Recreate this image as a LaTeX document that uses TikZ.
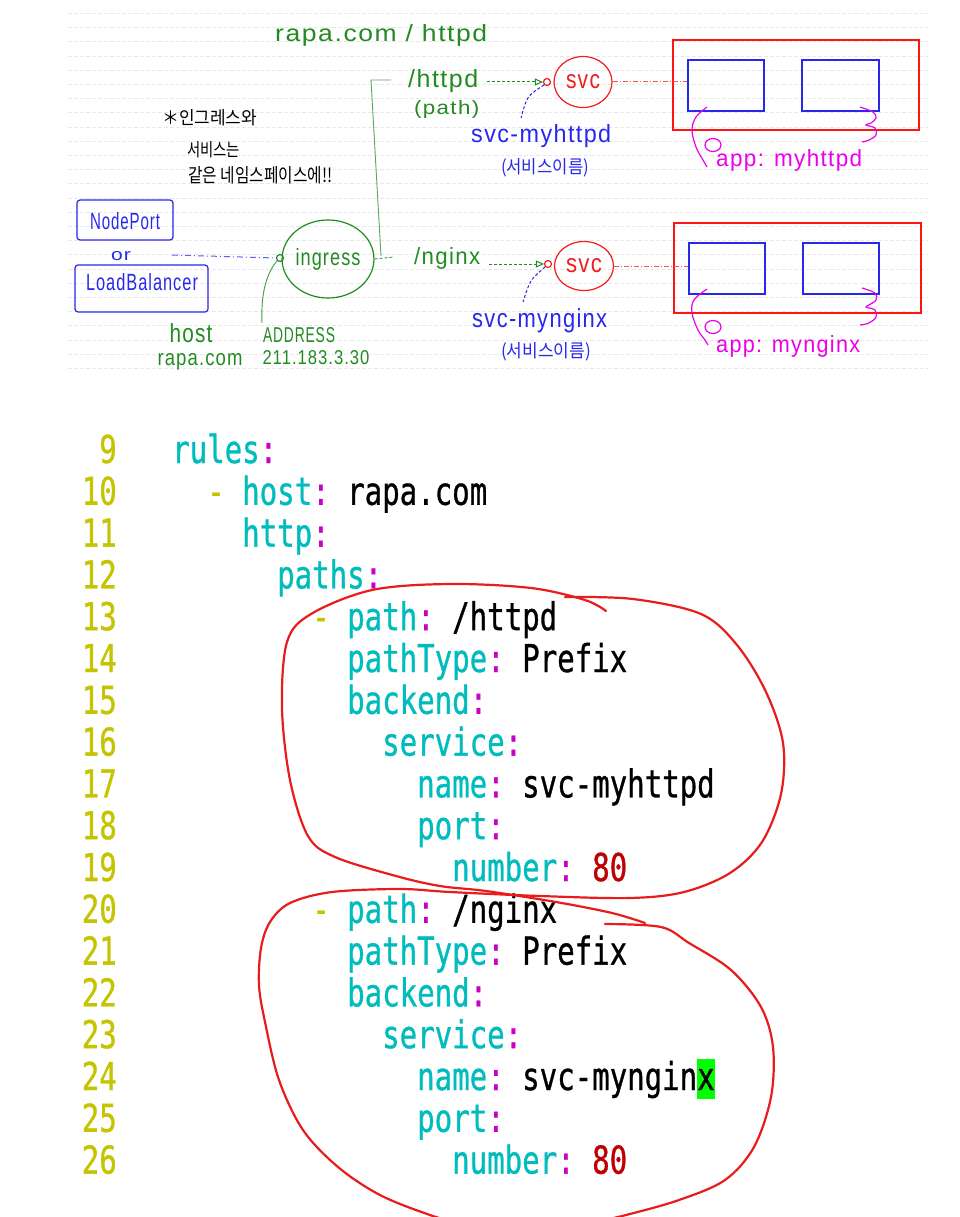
\documentclass[tikz,border=0pt]{standalone}
\usepackage{fontspec}
\usepackage{graphicx}
\usetikzlibrary{shapes.geometric,arrows.meta,calc}
\newfontfamily\codefont[FakeStretch=0.757,FakeBold=0.8]{DejaVu Sans Mono}
\newfontfamily\hand[LetterSpace=6]{Liberation Sans}
\newfontfamily\kor{Noto Sans CJK KR}
\definecolor{lnum}{RGB}{196,196,0}
\definecolor{ykey}{RGB}{0,188,188}
\definecolor{ycol}{RGB}{200,0,200}
\definecolor{yred}{RGB}{192,0,0}
\definecolor{hgreen}{RGB}{34,139,34}
\definecolor{hblue}{RGB}{40,40,235}
\definecolor{hred}{RGB}{240,30,30}
\definecolor{boxred}{RGB}{255,20,20}
\definecolor{hmag}{RGB}{235,0,235}
\definecolor{penred}{RGB}{232,28,28}
\definecolor{hilite}{RGB}{0,255,0}
\newcommand{\ky}[1]{\textcolor{ykey}{#1}\textcolor{ycol}{:}}
\newcommand{\csp}{\hspace*{17.5pt}}
\newcommand{\cdash}{\textcolor{lnum}{-}\csp}
\newcommand{\hw}[2]{\resizebox{#1pt}{!}{#2}}
\newcommand{\hs}[3]{\resizebox{#1pt}{#2pt}{#3}}
\begin{document}
\begin{tikzpicture}[x=1pt,y=-1pt,
  codeline/.style={anchor=base west, inner sep=0, font=\codefont\fontsize{38.4}{40}\selectfont},
  lineno/.style={anchor=base east, inner sep=0, text=lnum, font=\codefont\fontsize{38.4}{40}\selectfont},
  hlab/.style={inner sep=0, font=\hand\fontsize{20}{22}\selectfont},
  klab/.style={inner sep=0, font=\kor\fontsize{14}{16}\selectfont},
  pen/.style={line width=1.2pt},
  podbox/.style={rectangle, draw=hblue, line width=1.3pt, minimum height=51, inner sep=0},
  podgroup/.style={rectangle, draw=boxred, line width=1.3pt, minimum width=246, minimum height=90, inner sep=0},
  port/.style={circle, pen, minimum size=7, inner sep=0},
  bigpen/.style={penred, line width=2.2pt, line cap=round, line join=round}
]
\useasboundingbox (0,0) rectangle (960,1217);
\fill[white] (0,0) rectangle (960,1217);

% ruled notebook lines
\foreach \k in {0,...,25}
  \draw[black!9, line width=0.5pt, dash pattern=on 4pt off 2pt] (68,{13.3+14.2*\k}) -- (928,{13.3+14.2*\k});

% ---------------- top diagram ----------------
\node[hlab, anchor=base west, text=hgreen] (title) at (275,42) {\hs{212}{17}{rapa.com / httpd}};

% note
\node[klab, anchor=west] (note1) at (162,118) {\hs{95}{15}{＊인그레스와}};
\node[klab, anchor=west] (note2) at (187,150) {\hs{53}{15}{서비스는}};
\node[klab, anchor=west] (note3) at (188,175) {\hs{144}{16}{같은 네임스페이스에!!}};

% NodePort / LoadBalancer
\node[draw=hblue, pen, rounded corners=3, minimum width=96, minimum height=40, inner sep=0] (npbox) at (125,220) {};
\node[hlab, text=hblue] (np) at (125,221) {\hs{70}{17}{NodePort}};
\node[hlab, text=hblue] (or) at (121,256) {\hs{20}{9}{or}};
\node[draw=hblue, pen, rounded corners=3, minimum width=133, minimum height=47, inner sep=0] (lbbox) at (141.5,288.5) {};
\node[hlab, text=hblue] (lb) at (142,282) {\hs{112}{17}{LoadBalancer}};

\node[hlab, text=hgreen] (host) at (191,333) {\hs{43}{19}{host}};
\node[hlab, text=hgreen] (hostv) at (200,362) {\hs{85}{12}{rapa.com}};
\node[hlab, text=hgreen] (addr) at (299,335) {\hs{72}{15}{ADDRESS}};
\node[hlab, text=hgreen] (addrv) at (316,358) {\hs{107}{14}{211.183.3.30}};

% ingress
\node[ellipse, draw=hgreen, pen, minimum width=88, minimum height=78, inner sep=0, text=hgreen, font=\hand\fontsize{20}{22}\selectfont] (ing) at (328,259) {\hs{65}{17}{ingress}};
\node[port, draw=hgreen] (pi) at (280,258) {};
\coordinate (lbA) at (172,255);
\draw[hblue!75, line width=1pt, dash pattern=on 6pt off 3pt on 1pt off 3pt] (lbA) -- (pi.west);
\coordinate (ad1) at (262,323);
\draw[hgreen!85, line width=0.9pt] (pi.south west) .. controls (264,276) and (261,300) .. (ad1);

% ingress fan-out
\coordinate (j1) at (394,257);
\coordinate (j2) at (381,256);
\coordinate (j3) at (371,80);
\coordinate (j4) at (391,80);
\draw[hgreen!85, line width=0.9pt, dash pattern=on 3pt off 2pt] (ing.east) -- (j1);
\draw[hgreen!75, line width=0.9pt] (j2) -- (j3) -- (j4);

% /httpd branch
\node[hlab, anchor=base west, text=hgreen] (hp) at (408,88) {\hs{70}{18}{/httpd}};
\node[hlab, anchor=west, text=hgreen] (hpath) at (414,110) {\hs{65}{14}{(path)}};
\node[ellipse, draw=hred, pen, minimum width=58, minimum height=51, inner sep=0, text=hred, font=\hand\fontsize{20}{22}\selectfont] (svc1) at (583,82) {\hs{34}{14}{svc}};
\node[port, draw=hred] (p1) at (547,82) {};
\draw[hgreen, line width=1pt, dash pattern=on 3pt off 2pt, -{Triangle[open,length=8pt,width=7pt]}] ($(hp.east |- p1.west)+(9,0)$) -- (p1.west);
\node[podgroup] (g1) at (796,85) {};
\node[podbox, minimum width=76] (b1) at (726,85.5) {};
\node[podbox, minimum width=77] (b2) at (840.5,85.5) {};
\draw[hred!75, line width=1pt, dash pattern=on 5pt off 2pt on 1pt off 2pt] (svc1.east) -- (svc1.east -| b1.west);
\node[hlab, anchor=base west, text=hblue] (sn1) at (471,143) {\hs{140}{18}{svc-myhttpd}};
\node[klab, text=hblue] (sk1) at (545,168) {\hs{88}{15}{(서비스이름)}};
\coordinate (t1) at (521,118);
\draw[hblue, line width=1pt, dash pattern=on 3pt off 2pt] (p1.south west) .. controls (527,96) .. (t1);
\node[hlab, anchor=base west, text=hmag] (app1) at (716,167) {\hs{146}{17}{app: myhttpd}};
\draw[hmag, pen] plot[smooth, tension=0.6] coordinates {(707,107) (696,117) (692,130) (696,147) (703,160) (707,167)};
\draw[hmag, pen] (713,145) ellipse [x radius=8, y radius=6.5];
\draw[hmag, pen] plot[smooth, tension=0.6] coordinates {(860,107) (873,112) (876,118) (871,123) (866,125) (875,128) (876,135) (869,140) (862,142)};

% /nginx branch
\node[hlab, anchor=base west, text=hgreen] (ng) at (414,264) {\hs{66}{17}{/nginx}};
\node[ellipse, draw=hred, pen, minimum width=59, minimum height=49, inner sep=0, text=hred, font=\hand\fontsize{20}{22}\selectfont] (svc2) at (584,266) {\hs{36}{14}{svc}};
\node[port, draw=hred] (p2) at (548,264) {};
\draw[hgreen, line width=1pt, dash pattern=on 3pt off 2pt, -{Triangle[open,length=8pt,width=7pt]}] ($(ng.east |- p2.west)+(9,0)$) -- (p2.west);
\node[podgroup, minimum width=247] (g2) at (797.5,268) {};
\node[podbox, minimum width=76] (b3) at (727,268.5) {};
\node[podbox, minimum width=76] (b4) at (841,268.5) {};
\draw[hred!75, line width=1pt, dash pattern=on 5pt off 2pt on 1pt off 2pt] (svc2.east) -- (svc2.east -| b3.west);
\node[hlab, anchor=base west, text=hblue] (sn2) at (472,327) {\hs{135}{19}{svc-mynginx}};
\node[klab, text=hblue] (sk2) at (546,352) {\hs{90}{15}{(서비스이름)}};
\coordinate (t2) at (523,302);
\draw[hblue, line width=1pt, dash pattern=on 3pt off 2pt] (p2.south west) .. controls (530,280) .. (t2);
\node[hlab, anchor=base west, text=hmag] (app2) at (716,352) {\hs{144}{17}{app: mynginx}};
\draw[hmag, pen] plot[smooth, tension=0.6] coordinates {(707,289) (694,300) (692,313) (698,330) (705,340) (708,345)};
\draw[hmag, pen] (713,327) ellipse [x radius=8, y radius=6.5];
\draw[hmag, pen] plot[smooth, tension=0.6] coordinates {(862,288) (875,293) (876,300) (869,305) (866,307) (875,310) (876,317) (869,323) (860,325)};

% ---------------- code listing ----------------
\foreach \n in {9,...,26}
  \node[lineno] (ln\n) at (117,{463+41.8*(\n-9)}) {\n};

\fill[hilite] (697,1059) rectangle (714.5,1099);

\node[codeline] (c9)  at (172,463) {\ky{rules}};
\node[codeline] (c10) at ({172+17.5*2},{463+41.8*1}) {\cdash\ky{host}\csp rapa.com};
\node[codeline] (c11) at ({172+17.5*4},{463+41.8*2}) {\ky{http}};
\node[codeline] (c12) at ({172+17.5*6},{463+41.8*3}) {\ky{paths}};
\node[codeline] (c13) at ({172+17.5*8},{463+41.8*4}) {\cdash\ky{path}\csp /httpd};
\node[codeline] (c14) at ({172+17.5*10},{463+41.8*5}) {\ky{pathType}\csp Prefix};
\node[codeline] (c15) at ({172+17.5*10},{463+41.8*6}) {\ky{backend}};
\node[codeline] (c16) at ({172+17.5*12},{463+41.8*7}) {\ky{service}};
\node[codeline] (c17) at ({172+17.5*14},{463+41.8*8}) {\ky{name}\csp svc-myhttpd};
\node[codeline] (c18) at ({172+17.5*14},{463+41.8*9}) {\ky{port}};
\node[codeline] (c19) at ({172+17.5*16},{463+41.8*10}) {\ky{number}\csp\textcolor{yred}{80}};
\node[codeline] (c20) at ({172+17.5*8},{463+41.8*11}) {\cdash\ky{path}\csp /nginx};
\node[codeline] (c21) at ({172+17.5*10},{463+41.8*12}) {\ky{pathType}\csp Prefix};
\node[codeline] (c22) at ({172+17.5*10},{463+41.8*13}) {\ky{backend}};
\node[codeline] (c23) at ({172+17.5*12},{463+41.8*14}) {\ky{service}};
\node[codeline] (c24) at ({172+17.5*14},{463+41.8*15}) {\ky{name}\csp svc-mynginx};
\node[codeline] (c25) at ({172+17.5*14},{463+41.8*16}) {\ky{port}};
\node[codeline] (c26) at ({172+17.5*16},{463+41.8*17}) {\ky{number}\csp\textcolor{yred}{80}};

% hand-drawn red loops
\draw[bigpen] plot[smooth, tension=0.55] coordinates {(645,923) (612,913) (556,902) (486,891) (440,886) (396,876) (335,857) (308,836) (290,780) (282,708) (287,642) (311,614) (372,590) (450,584) (531,588) (585,600) (606,611)};
\draw[bigpen] plot[smooth, tension=0.55] coordinates {(565,597) (633,599) (701,614) (737,645) (766,692) (783,743) (781,794) (762,842) (730,873) (684,892) (630,898) (540,896) (450,892) (400,889) (332,892) (290,903) (270,922) (261,948) (259,985) (265,1022) (279,1080) (303,1130) (338,1167) (380,1195) (430,1215) (480,1230)};
\draw[bigpen] plot[smooth, tension=0.55] coordinates {(605,924) (661,927) (689,943) (731,970) (761,1007) (773,1047) (771,1097) (754,1147) (725,1180) (679,1200) (626,1215) (570,1228)};
\end{tikzpicture}
\end{document}
